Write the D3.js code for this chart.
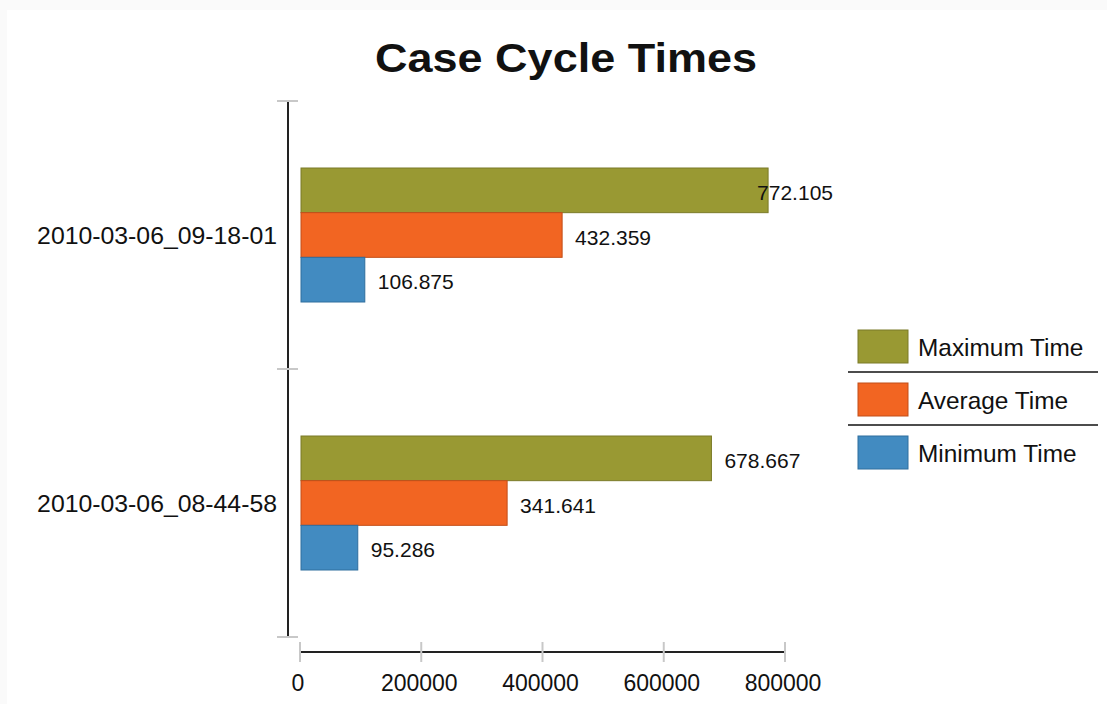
<!DOCTYPE html>
<html>
<head>
<meta charset="utf-8">
<script src="https://cdn.jsdelivr.net/npm/d3@7/dist/d3.min.js"></script>
<style>
  html, body { margin: 0; padding: 0; background: #fafafa; }
  svg { display: block; font-family: "Liberation Sans", Arial, sans-serif; }
</style>
</head>
<body>
<svg id="chart" width="1107" height="704"></svg>
<script>
const title = "Case Cycle Times";
const categories = ["2010-03-06_09-18-01", "2010-03-06_08-44-58"];
const seriesNames = ["Maximum Time", "Average Time", "Minimum Time"];
const maximumTime = [772105, 678667];
const averageTime = [432359, 341641];
const minimumTime = [106875, 95286];
const xTicks = [0, 200000, 400000, 600000, 800000];
const colors = ["#999933", "#F26522", "#428BC1"];
const strokes = ["#7b7b28", "#c24e18", "#2f6e9e"];

const seriesValues = [maximumTime, averageTime, minimumTime];
const fmt = d3.formatLocale({decimal: ",", thousands: ".", grouping: [3], currency: ["", ""]}).format(",d");

const svg = d3.select("#chart");
svg.append("rect").attr("x", 7).attr("y", 10).attr("width", 1100).attr("height", 694).attr("fill", "#fff");

svg.append("text").attr("x", 566).attr("y", 72).attr("text-anchor", "middle")
  .attr("font-size", 40).attr("font-weight", "bold").attr("fill", "#111")
  .attr("textLength", 382).attr("lengthAdjust", "spacingAndGlyphs")
  .text(title);

const x = d3.scaleLinear().domain([0, 800000]).range([300, 785]);
const y = d3.scaleBand().domain(categories).range([101, 637]);
const ySub = d3.scaleBand().domain(seriesNames).range([0, y.bandwidth()]).paddingInner(0).paddingOuter(1.5);

// bars
const groups = svg.selectAll("g.grp").data(categories).join("g")
  .attr("transform", d => `translate(0,${y(d)})`);
groups.each(function(cat, ci) {
  const g = d3.select(this);
  seriesNames.forEach((s, si) => {
    const v = seriesValues[si][ci];
    g.append("rect")
      .attr("x", x(0) + 1).attr("y", ySub(s))
      .attr("width", x(v) - x(0) - 1).attr("height", ySub.bandwidth())
      .attr("fill", colors[si]).attr("stroke", strokes[si]).attr("stroke-width", 1);
    const lbl = fmt(v);
    const t = g.append("text")
      .attr("y", ySub(s) + ySub.bandwidth() / 2 + 4)
      .attr("dominant-baseline", "middle")
      .attr("font-size", 21).attr("fill", "#111").text(lbl);
    const w = t.node().getComputedTextLength();
    const limit = x(800000) + 48;
    t.attr("x", Math.min(x(v) + 13, limit - w));
  });
});

// y axis
svg.append("line").attr("x1", 288).attr("x2", 288).attr("y1", 101).attr("y2", 637)
  .attr("stroke", "#222").attr("stroke-width", 2);
const yEdges = categories.map(c => y(c)).concat([y.range()[1]]);
svg.selectAll("line.ytick").data(yEdges).join("line")
  .attr("x1", 277).attr("x2", 298).attr("y1", d => d).attr("y2", d => d)
  .attr("stroke", "#c8c8c8").attr("stroke-width", 2);
svg.selectAll("text.ycat").data(categories).join("text")
  .attr("x", 277).attr("y", d => y(d) + y.bandwidth() / 2 + 2)
  .attr("text-anchor", "end").attr("dominant-baseline", "middle")
  .attr("font-size", 24.8).attr("fill", "#111").text(d => d);

// x axis
svg.append("line").attr("x1", x(0)).attr("x2", x(800000)).attr("y1", 652).attr("y2", 652)
  .attr("stroke", "#222").attr("stroke-width", 2);
svg.selectAll("line.xtick").data(xTicks).join("line")
  .attr("x1", d => x(d)).attr("x2", d => x(d)).attr("y1", 642).attr("y2", 662)
  .attr("stroke", "#c8c8c8").attr("stroke-width", 2);
svg.selectAll("text.xl").data(xTicks).join("text")
  .attr("x", d => x(d) - 2).attr("y", 685).attr("text-anchor", "middle")
  .attr("dominant-baseline", "middle")
  .attr("font-size", 23).attr("fill", "#111").text(d => String(d));

// legend
const leg = svg.append("g");
seriesNames.forEach((s, i) => {
  const yy = 330 + i * 53;
  leg.append("rect").attr("x", 858).attr("y", yy).attr("width", 50).attr("height", 33)
    .attr("fill", colors[i]).attr("stroke", strokes[i]).attr("stroke-width", 1);
  leg.append("text").attr("x", 918).attr("y", yy + 20).attr("dominant-baseline", "middle")
    .attr("font-size", 24.4).attr("fill", "#111").text(s);
  if (i < seriesNames.length - 1) {
    leg.append("line").attr("x1", 848).attr("x2", 1098).attr("y1", yy + 42).attr("y2", yy + 42)
      .attr("stroke", "#111").attr("stroke-width", 1.5);
  }
});
</script>
</body>
</html>
